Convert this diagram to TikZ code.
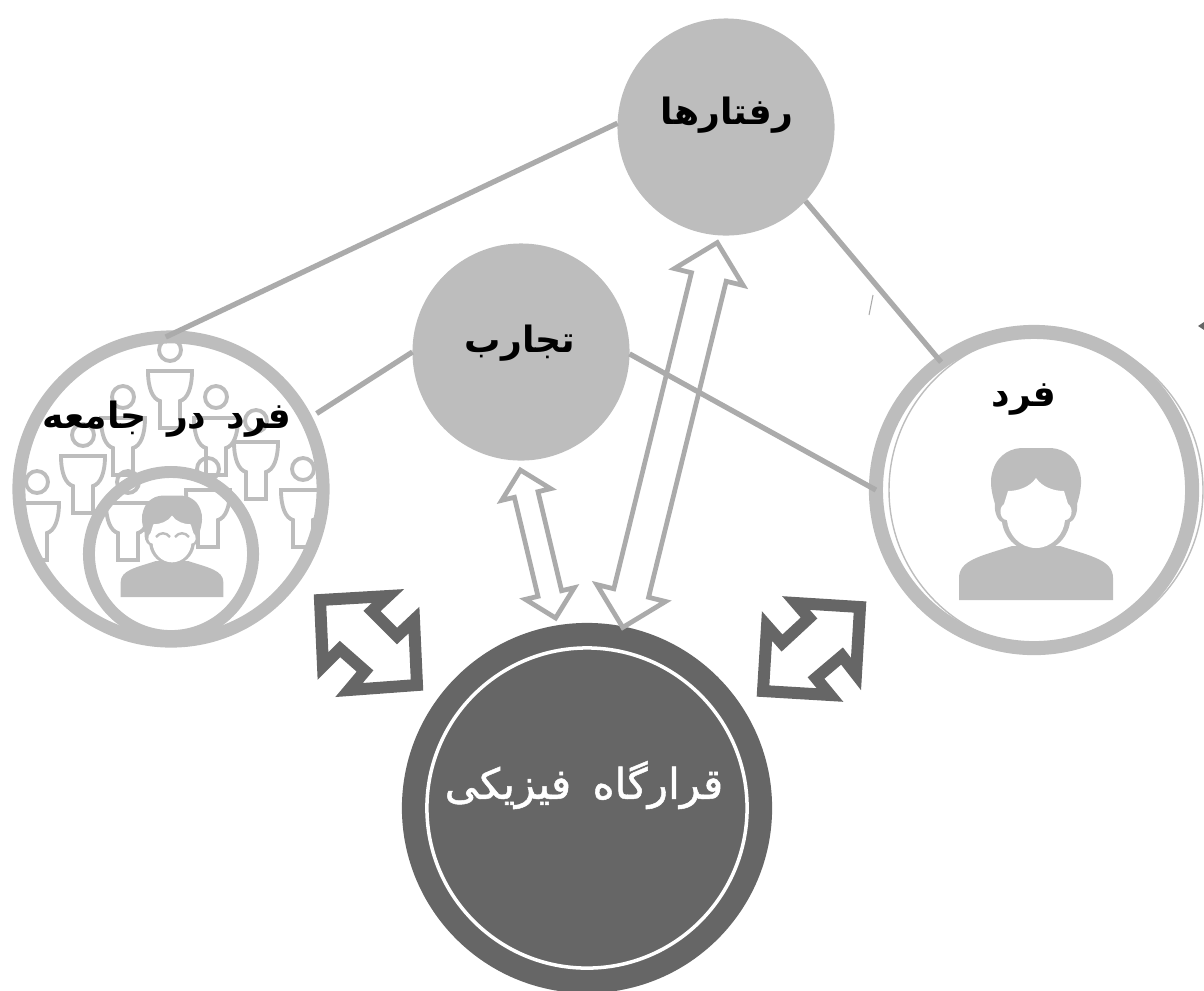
\documentclass[tikz,border=0pt]{standalone}
\usepackage{fontspec}
\usetikzlibrary{shapes.arrows}
\TeXXeTstate=1
\newfontfamily\farsifont[Script=Arabic,WordSpace=1.6]{DejaVu Sans}
\newfontfamily\placefont[Script=Arabic,WordSpace=1.6,FakeBold=1.2]{DejaVu Sans}
\definecolor{ringgray}{HTML}{BDBDBD}
\definecolor{linkgray}{HTML}{ABABAB}
\definecolor{darkgray}{HTML}{666666}
\newcommand{\farsi}[1]{\beginR #1\endR}
\tikzset{
    blob/.style={circle, fill=ringgray, minimum size=2.17cm, inner sep=0pt, outer sep=0pt},
    ring/.style={circle, draw=ringgray, inner sep=0pt, outer sep=0pt},
    link/.style={draw=linkgray, line width=1.5pt},
    hollowarrow/.style={double arrow, draw=linkgray, line width=1.35pt, inner sep=0pt, outer sep=0pt, text depth=0pt},
    darkarrow/.style={draw=darkgray, fill=white, line width=3.4pt, miter limit=10},
    crowdline/.style={draw=ringgray, line width=1.1pt},
    caption/.style={text=black, font=\fontsize{10.3pt}{13pt}\selectfont\farsifont\bfseries},
    placecaption/.style={text=white, font=\fontsize{12pt}{14pt}\selectfont\placefont},
    member/.pic={
        \draw[crowdline] (0,-21) circle (11);
        \draw[crowdline] (-22,0) -- (22,0) .. controls (22,18) and (17,28) .. (10,30) -- (10,57) -- (-10,57) -- (-10,30) .. controls (-17,28) and (-22,18) .. (-22,0) -- cycle;
    },
    figure/.pic={
        \fill[ringgray] (-77,0) -- (-77,-22) .. controls (-77,-40) and (-55,-44) .. (-24,-54) -- (24,-54) .. controls (55,-44) and (77,-40) .. (77,-22) -- (77,0) -- cycle;
        \fill[ringgray] (0,-48) .. controls (-18,-48) and (-32,-62) .. (-34,-78) .. controls (-40,-80) and (-42,-92) .. (-41,-96) .. controls (-46,-112) and (-46,-122) .. (-43,-130) .. controls (-38,-146) and (-24,-153) .. (-10,-152) -- (10,-152) .. controls (24,-153) and (38,-146) .. (43,-130) .. controls (46,-122) and (46,-112) .. (41,-96) .. controls (42,-92) and (40,-80) .. (34,-78) .. controls (32,-62) and (18,-48) .. (0,-48) -- cycle;
        \fill[white] (0,-52) .. controls (-16,-52) and (-28,-66) .. (-29,-80) .. controls (-36,-80) and (-38,-92) .. (-32,-96) -- (-28,-109) .. controls (-18,-109) and (-6,-113) .. (0,-122) .. controls (6,-113) and (18,-109) .. (28,-109) -- (32,-96) .. controls (38,-92) and (36,-80) .. (29,-80) .. controls (28,-66) and (16,-52) .. (0,-52) -- cycle;
    }
}
\begin{document}
\begin{tikzpicture}[x=0.01cm, y=-0.01cm]
    \useasboundingbox (0,0) rectangle (1204,990);
    % crowd
    \begin{scope}
        \clip (171,489) circle (155);
        \foreach \px/\py in {170/371, 123/418, 216/418, 83/456, 256/442, 37/503, 303/490, 128/503, 208/490}
            \pic at (\px,\py) {member};
    \end{scope}
    % circles
    \node[blob] (behaviour) at (726,127) {};
    \node[blob] (experience) at (521,352) {};
    \node[ring, line width=3.7pt, minimum size=3.04cm] (society) at (171,489) {};
    \node[ring, line width=3.4pt, minimum size=1.64cm] (self) at (171,554) {};
    \node[ring, line width=4pt, minimum size=3.16cm] (person) at (1034,490) {};
    \draw[ringgray, line width=0.4pt] (1046,490) circle (157);
    \node[circle, fill=darkgray, minimum size=3.7cm, inner sep=0pt] (place) at (587,808) {};
    \node[circle, draw=white, line width=1pt, minimum size=3.2cm, inner sep=0pt] (placeinner) at (587,808) {};
    % figures
    \pic[scale=0.667] at (172,597) {figure};
    \pic at (1036,600) {figure};
    \draw[ringgray, line width=0.7pt] (156,537) .. controls (160,532) and (166,532) .. (170,537);
    \draw[ringgray, line width=0.7pt] (175,537) .. controls (179,532) and (185,532) .. (189,537);
    % links
    \draw[link] (behaviour.178) -- (society.92);
    \draw[link] (behaviour.317) -- (person.126);
    \draw[link, shorten >=0.12cm] (experience.180) -- (society.27);
    \draw[link] (experience.359) -- (person.180);
    % arrows
    \node[hollowarrow, minimum height=1.52cm, text height=0.195cm, double arrow head extend=0.13cm, rotate=103.4] (smallarrow) at (538,544) {};
    \node[hollowarrow, minimum height=3.96cm, text height=0.31cm, double arrow head extend=0.175cm, rotate=76.2] (bigarrow) at (670,435) {};
    \draw[darkarrow] (320,600) -- (388,596) -- (372,611) -- (397,636) -- (414,620) -- (417,685) -- (349,690) -- (365,671) -- (340,649) -- (323,666) -- cycle;
    \draw[darkarrow] (860,607) -- (796,603) -- (809,618) -- (782,643) -- (767,626) -- (763,691) -- (830,695) -- (816,678) -- (842,656) -- (856,674) -- cycle;
    % stray marks
    \draw[linkgray, line width=0.3pt] (873,295) -- (869,315);
    \fill[darkgray] (1198,326) -- (1204,322) -- (1204,330) -- cycle;
    % texts
    \node[caption] (behaviourtext) at (727,115) {\farsi{رفتارها}};
    \node[caption] (experiencetext) at (520,343) {\farsi{تجارب}};
    \node[caption] (societytext) at (167,419) {\farsi{فرد در جامعه}};
    \node[caption] (persontext) at (1024,400) {\farsi{فرد}};
    \node[placecaption] (placetext) at (584,785) {\farsi{قرارگاه فیزیکی}};
\end{tikzpicture}
\end{document}
